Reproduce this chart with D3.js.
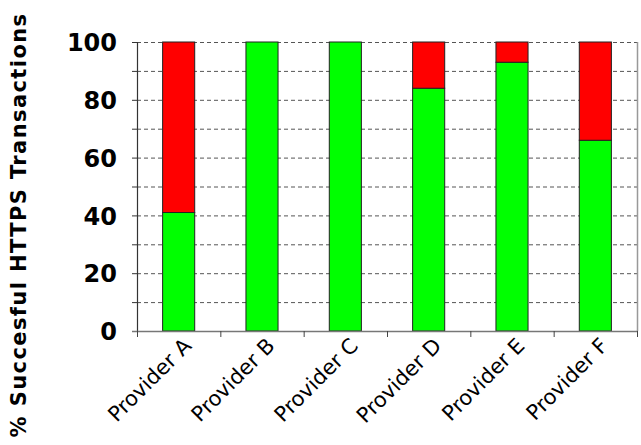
<!DOCTYPE html>
<html><head><meta charset="utf-8">
<script src="https://cdn.jsdelivr.net/npm/d3@7"></script>
<style>body{margin:0;background:#fff}svg{display:block}</style>
</head><body><svg id="c" width="641" height="445"></svg>
<script>
const categories = ["Provider A","Provider B","Provider C","Provider D","Provider E","Provider F"];
const successValues = [41, 100, 100, 84, 93, 66];
const failValues = successValues.map(v => 100 - v);
const yTickValues = [0, 20, 40, 60, 80, 100];
const yTitle = "% Succesful HTTPS Transactions";

const svg = d3.select("#c");
const m = {left:137, right:4, top:42, bottom:114};
const W = 641, H = 445;
const x = d3.scaleBand().domain(categories).range([m.left, W - m.right]).padding(0);
const y = d3.scaleLinear().domain([0,100]).range([H - m.bottom, m.top]);

// gridlines
svg.append("g").selectAll("line").data(d3.range(10,101,10)).join("line")
  .attr("x1", m.left).attr("x2", W - m.right)
  .attr("y1", d => y(d)+0.5).attr("y2", d => y(d)+0.5)
  .attr("stroke", "#555").attr("stroke-width", 1).attr("stroke-dasharray", "4,3");

// right border
svg.append("line").attr("x1", W - m.right + 0.5).attr("x2", W - m.right + 0.5)
  .attr("y1", m.top).attr("y2", y(0)).attr("stroke", "#999").attr("stroke-width", 1.5);

const bw = x.bandwidth() * 0.385;
const bars = svg.append("g");
bars.selectAll("rect.s").data(categories).join("rect").attr("class","s")
  .attr("x", d => x(d) + (x.bandwidth()-bw)/2).attr("width", bw)
  .attr("y", (d,i) => y(successValues[i])).attr("height", (d,i) => y(0) - y(successValues[i]))
  .attr("fill", "#00ff00").attr("stroke", "#222").attr("stroke-width", 1);
bars.selectAll("rect.f").data(categories).join("rect").attr("class","f")
  .attr("x", d => x(d) + (x.bandwidth()-bw)/2).attr("width", bw)
  .attr("y", (d,i) => y(100)).attr("height", (d,i) => y(successValues[i]) - y(100))
  .attr("fill", "#ff0000").attr("stroke", "#222").attr("stroke-width", 1)
  .style("display", (d,i) => failValues[i] > 0 ? null : "none");

// y axis
const yAxis = svg.append("g").attr("transform", `translate(${m.left},0)`)
  .call(d3.axisLeft(y).tickValues(d3.range(0,101,10)).tickSize(5).tickFormat(d => yTickValues.includes(d) ? d : ""));
yAxis.select(".domain").attr("stroke", "#333").attr("stroke-width", 1.2).attr("d", `M0.5,${m.top}V${y(0)}`);
yAxis.selectAll(".tick line").attr("stroke", "#333");
yAxis.selectAll(".tick text").attr("x", -20).attr("dy", "0.36em")
  .style("font-family", "'DejaVu Sans', sans-serif").style("font-weight", "bold")
  .style("font-size", "24px").style("letter-spacing", "0px").attr("fill", "#000");

// x axis
const xAxis = svg.append("g").attr("transform", `translate(0,${y(0)})`);
xAxis.append("line").attr("x1", m.left - 5).attr("x2", W - m.right + 1)
  .attr("y1", 0.5).attr("y2", 0.5).attr("stroke", "#777").attr("stroke-width", 1.5);
const bounds = categories.map(c => x(c)).concat([x(categories[categories.length-1]) + x.bandwidth()]);
xAxis.selectAll("line.t").data(bounds).join("line").attr("class","t")
  .attr("x1", d => d + 0.5).attr("x2", d => d + 0.5).attr("y1", 0).attr("y2", 6)
  .attr("stroke", "#444");
xAxis.selectAll("text").data(categories).join("text")
  .attr("transform", d => `translate(${x(d) + x.bandwidth()/2 + 14},${16}) rotate(-45)`)
  .attr("text-anchor", "end")
  .style("font-family", "'DejaVu Sans', sans-serif").style("font-size", "21px")
  .attr("fill", "#000").text(d => d);

// y title
svg.append("text")
  .attr("transform", `translate(${26},${225}) rotate(-90)`)
  .attr("text-anchor", "middle")
  .style("font-family", "'DejaVu Sans', sans-serif").style("font-weight", "bold")
  .style("font-size", "21px").style("letter-spacing", "1.4px").attr("fill", "#000").text(yTitle);
</script></body></html>
